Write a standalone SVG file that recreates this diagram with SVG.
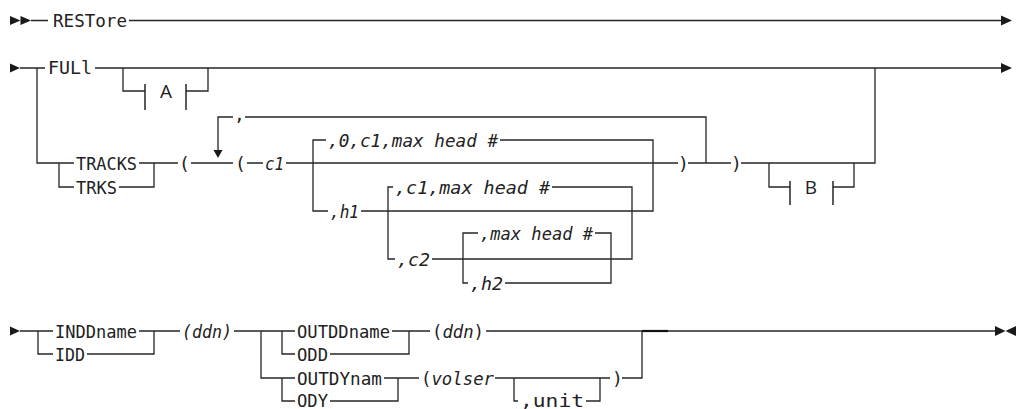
<svg xmlns="http://www.w3.org/2000/svg" width="1017" height="409" viewBox="0 0 1017 409">
<style>
.ln{fill:none;stroke:#262626;stroke-width:1.3}
.tk{fill:none;stroke:#262626;stroke-width:1.5}
.ah{fill:#1a1a1a;stroke:none}
.t{font-family:"DejaVu Sans Mono","Liberation Mono",monospace;font-size:18px;fill:#222}
.i{font-style:italic}
.f{font-family:"Open Sans","Liberation Sans",sans-serif;font-size:19px;fill:#222;text-anchor:middle}
</style>
<rect width="1017" height="409" fill="#fff"/>
<g id="connectors">
  <path class="ln" d="M31,20.5 H48 M129,20.5 H1001"/>
  <path class="ln" d="M20,68 H45 M95,68 H1001 M37,68 V163 H74 M59,163 V187 H74"/>
  <path class="ln" d="M139,163 H178 M119,187 H154 V163"/>
  <path class="ln" d="M123,68 V91 H145 M186,91 H208 V68"/>
  <path class="ln" d="M875,68 V163 H741"/>
  <path class="ln" d="M191,163 H233 M247,163 H263 M286,163 H678 M688,163 H731"/>
  <path class="ln" d="M218,150 V117 H233 M245,117 H706 V163"/>
  <path class="ln" d="M326,140 H313 V211 H328 M500,140 H653 V211 H361"/>
  <path class="ln" d="M393,187 H388 V259 H395 M552,187 H632 V259 H432"/>
  <path class="ln" d="M478,233 H463 V283 H468 M595,233 H611 V283 H505"/>
  <path class="ln" d="M769,163 V187 H790 M833,187 H854 V163"/>
  <path class="ln" d="M20,331 H53 M38,331 V354 H53 M139,331 H180 M87,354 H154 V331"/>
  <path class="ln" d="M234,331 H295 M261,331 V378 H295 M282,331 V354 H295 M282,378 V401 H295"/>
  <path class="ln" d="M392,331 H430 M330,354 H409 V331 M486,331 H642 V378 H622"/>
  <path class="ln" d="M384,378 H398 V401 H330 M398,378 H419 M495,378 H610 M514,378 V401 H518 M586,401 H600 V378"/>
  <path class="ln" d="M642,331 H668" style="stroke-width:2.2;stroke:#111"/>
  <path class="ln" d="M668,331 H995"/>
  <polygon class="ah" points="10,16 20.5,20.5 10,25"/>
  <polygon class="ah" points="20.5,16 31,20.5 20.5,25"/>
  <polygon class="ah" points="1001,15.5 1012,20.5 1001,25.5"/>
  <polygon class="ah" points="10,63.5 20,68 10,72.5"/>
  <polygon class="ah" points="1001,63 1012,68 1001,73"/>
  <polygon class="ah" points="213.5,150 222.5,150 218,158"/>
  <polygon class="ah" points="10,326.5 20,331 10,335.5"/>
  <polygon class="ah" points="995,326 1005.5,331 995,336"/>
  <polygon class="ah" points="1016,326 1005.5,331 1016,336"/>
</g>
<g id="n-restore"><text class="t" x="53" y="26.5" textLength="74" lengthAdjust="spacingAndGlyphs">RESTore</text></g>
<g id="n-full"><text class="t" x="48" y="74" textLength="44" lengthAdjust="spacingAndGlyphs">FULl</text></g>
<g id="n-fragA">
  <path class="tk" d="M145,84 V110 M186,84 V110"/>
  <text class="f" x="166" y="98">A</text>
</g>
<g id="n-tracks"><text class="t" x="76" y="169.5" textLength="61" lengthAdjust="spacingAndGlyphs">TRACKS</text></g>
<g id="n-trks"><text class="t" x="76" y="193.5" textLength="41" lengthAdjust="spacingAndGlyphs">TRKS</text></g>
<g id="n-lparen1"><text class="t" x="179" y="169.5">(</text></g>
<g id="n-comma"><text class="t" x="234" y="121">,</text></g>
<g id="n-lparen2"><text class="t" x="235" y="169.5">(</text></g>
<g id="n-c1"><text class="t i" x="265" y="169.5" textLength="19" lengthAdjust="spacingAndGlyphs">c1</text></g>
<g id="n-0c1max"><text class="t i" x="328" y="146.5" textLength="170" lengthAdjust="spacingAndGlyphs">,0,c1,max head #</text></g>
<g id="n-h1"><text class="t i" x="330" y="217.5" textLength="29" lengthAdjust="spacingAndGlyphs">,h1</text></g>
<g id="n-c1max"><text class="t i" x="395" y="193.5" textLength="155" lengthAdjust="spacingAndGlyphs">,c1,max head #</text></g>
<g id="n-c2"><text class="t i" x="397" y="265.5" textLength="33" lengthAdjust="spacingAndGlyphs">,c2</text></g>
<g id="n-max"><text class="t i" x="480" y="239.5" textLength="113" lengthAdjust="spacingAndGlyphs">,max head #</text></g>
<g id="n-h2"><text class="t i" x="470" y="289.5" textLength="33" lengthAdjust="spacingAndGlyphs">,h2</text></g>
<g id="n-rparen1"><text class="t" x="678" y="169.5">)</text></g>
<g id="n-rparen2"><text class="t" x="731" y="169.5">)</text></g>
<g id="n-fragB">
  <path class="tk" d="M790,181 V205 M833,181 V205"/>
  <text class="f" x="811" y="194">B</text>
</g>
<g id="n-inddname"><text class="t" x="55" y="337.5" textLength="82" lengthAdjust="spacingAndGlyphs">INDDname</text></g>
<g id="n-idd"><text class="t" x="55" y="360.5" textLength="30" lengthAdjust="spacingAndGlyphs">IDD</text></g>
<g id="n-ddn1"><text class="t i" x="182" y="337.5" textLength="50" lengthAdjust="spacingAndGlyphs">(ddn)</text></g>
<g id="n-outddname"><text class="t" x="297" y="337.5" textLength="93" lengthAdjust="spacingAndGlyphs">OUTDDname</text></g>
<g id="n-odd"><text class="t" x="297" y="360.5" textLength="31" lengthAdjust="spacingAndGlyphs">ODD</text></g>
<g id="n-ddn2"><text class="t" x="432" y="337.5" textLength="52" lengthAdjust="spacingAndGlyphs">(<tspan class="i">ddn</tspan>)</text></g>
<g id="n-outdynam"><text class="t" x="297" y="384.5" textLength="85" lengthAdjust="spacingAndGlyphs">OUTDYnam</text></g>
<g id="n-ody"><text class="t" x="297" y="407" textLength="31" lengthAdjust="spacingAndGlyphs">ODY</text></g>
<g id="n-volser"><text class="t" x="421" y="384.5" textLength="73" lengthAdjust="spacingAndGlyphs">(<tspan class="i">volser</tspan></text></g>
<g id="n-unit"><text class="t" x="520" y="407" textLength="64" lengthAdjust="spacingAndGlyphs">,unit</text></g>
<g id="n-rparen3"><text class="t" x="612" y="384.5">)</text></g>
</svg>
